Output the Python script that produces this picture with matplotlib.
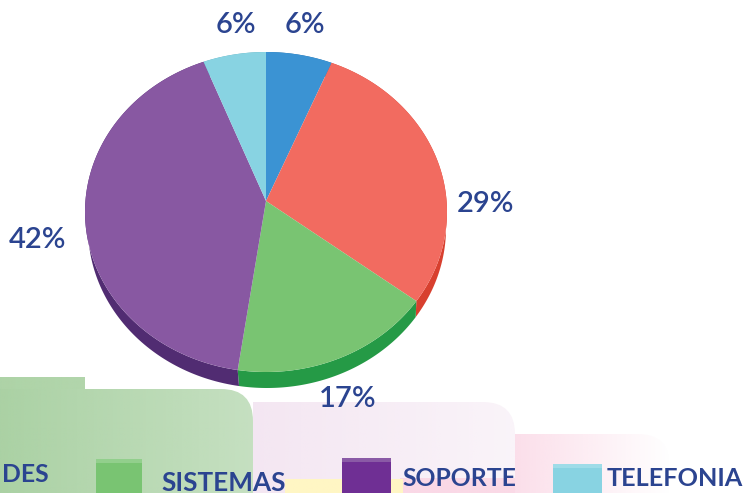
import numpy as np
import matplotlib
matplotlib.use('Agg')  # Non-interactive backend
import matplotlib.pyplot as plt
from matplotlib.colors import to_rgb
from matplotlib.patches import FancyBboxPatch, Rectangle

plt.rcParams['font.family'] = ['Lato', 'DejaVu Sans']

# slices, clockwise from the top (shares as drawn, labels as printed)
shares = [5.9, 28.5, 18.1, 41.9, 5.6]
percent_labels = ['6%', '29%', '17%', '42%', '6%']
top_colors = ['#3b93d3', '#f26b60', '#79c472', '#8858a2', '#88d3e2']
side_colors = ['#2a70a8', '#d8402f', '#259a46', '#512c72', '#5aa9bb']
label_pos = [(305, 25), (486, 204), (348, 399), (38, 240), (236, 25)]

legend_names = ['DES', 'SISTEMAS', 'SOPORTE', 'TELEFONIA']
legend_text_x = [2, 161, 402, 607]
legend_text_y = [475, 483, 478, 478]
legend_sizes = [17.8, 18.8, 17.8, 18.2]

TEXT_COLOR = '#2b4490'
CX, CY, RX, RY = 266, 212, 181, 160
APEX_Y = 201
DEPTH = 16


def arc(start, stop, rx=RX, dx=0, dy=0):
    t = np.radians(np.linspace(start, stop, 120))
    return CX + dx + rx * np.sin(t), CY + dy - RY * np.cos(t)


def gradient_panel(ax, x0, y0, x1, y1, color, a0, a1, zorder, rounded=True):
    """Panel fading from alpha a0 (left) to a1 (right)"""
    img = np.zeros((2, 256, 4))
    img[..., :3] = to_rgb(color)
    img[..., 3] = np.linspace(a0, a1, 256)
    im = ax.imshow(img, extent=(x0, x1, y1, y0), aspect='auto', zorder=zorder,
                   interpolation='bilinear')
    if rounded:
        clip = FancyBboxPatch((x0 - 40, y0), x1 - x0 + 40, y1 - y0 + 60,
                              boxstyle='round,pad=0,rounding_size=32',
                              transform=ax.transData, fc='none', ec='none')
        ax.add_patch(clip)
        im.set_clip_path(clip)


fig = plt.figure(figsize=(7.43, 4.93), dpi=100)
ax = fig.add_axes([0, 0, 1, 1])

# pie side first, then the top face
edges = np.cumsum([0] + shares) * 3.6
for i, share in enumerate(shares):
    start, stop = edges[i], edges[i + 1]
    x_top, y_top = arc(start, stop)
    x_low, y_low = arc(start, stop, rx=RX - 2, dx=1, dy=DEPTH)
    ax.fill(np.r_[x_top, x_low[::-1]], np.r_[y_top, y_low[::-1]],
            color=side_colors[i], lw=0, zorder=2)
for i, share in enumerate(shares):
    x_top, y_top = arc(edges[i], edges[i + 1])
    ax.fill(np.r_[CX, x_top], np.r_[APEX_Y, y_top], color=top_colors[i], lw=0, zorder=3)

# background panels behind the legend
gradient_panel(ax, 515, 434, 670, 520, '#f9c9dc', 0.6, 0.0, 5)
gradient_panel(ax, 200, 402, 515, 520, '#e6c8e2', 0.5, 0.2, 6)
gradient_panel(ax, 400, 478, 515, 500, '#fbd3e2', 0.8, 0.8, 6, rounded=False)
gradient_panel(ax, 285, 479, 403, 500, '#fff6c4', 1, 1, 7, rounded=False)
ax.add_patch(Rectangle((0, 389), 253, 110, fc='white', ec='none', zorder=7))
gradient_panel(ax, 0, 389, 253, 520, '#a6cf9f', 0.95, 0.65, 8)
gradient_panel(ax, 0, 377, 85, 389, '#a9d1a2', 0.95, 0.9, 8, rounded=False)

# legend swatches
for x, w, y, color, strip in [(96, 46, 459, '#79c472', '#92cf8c'),
                              (342, 49, 458, '#6f2f94', '#8a5aa6'),
                              (553, 49, 464, '#88d3e2', '#9fdce8')]:
    ax.add_patch(Rectangle((x, y), w, 40, fc=color, ec='none', zorder=9))
    ax.add_patch(Rectangle((x, y), w, 4, fc=strip, ec='none', zorder=9))

# percent labels
for label, (x, y) in zip(percent_labels, label_pos):
    ax.text(x, y, label, color=TEXT_COLOR, fontsize=21, fontweight='semibold',
            ha='center', va='center', zorder=10)

for name, x, y, size in zip(legend_names, legend_text_x, legend_text_y, legend_sizes):
    ax.text(x, y, name, color=TEXT_COLOR, fontsize=size, fontweight='bold',
            ha='left', va='center', zorder=10)

ax.set_xlim(0, 743)
ax.set_ylim(493, 0)
ax.axis('off')

fig.savefig('out.png', dpi=100)
